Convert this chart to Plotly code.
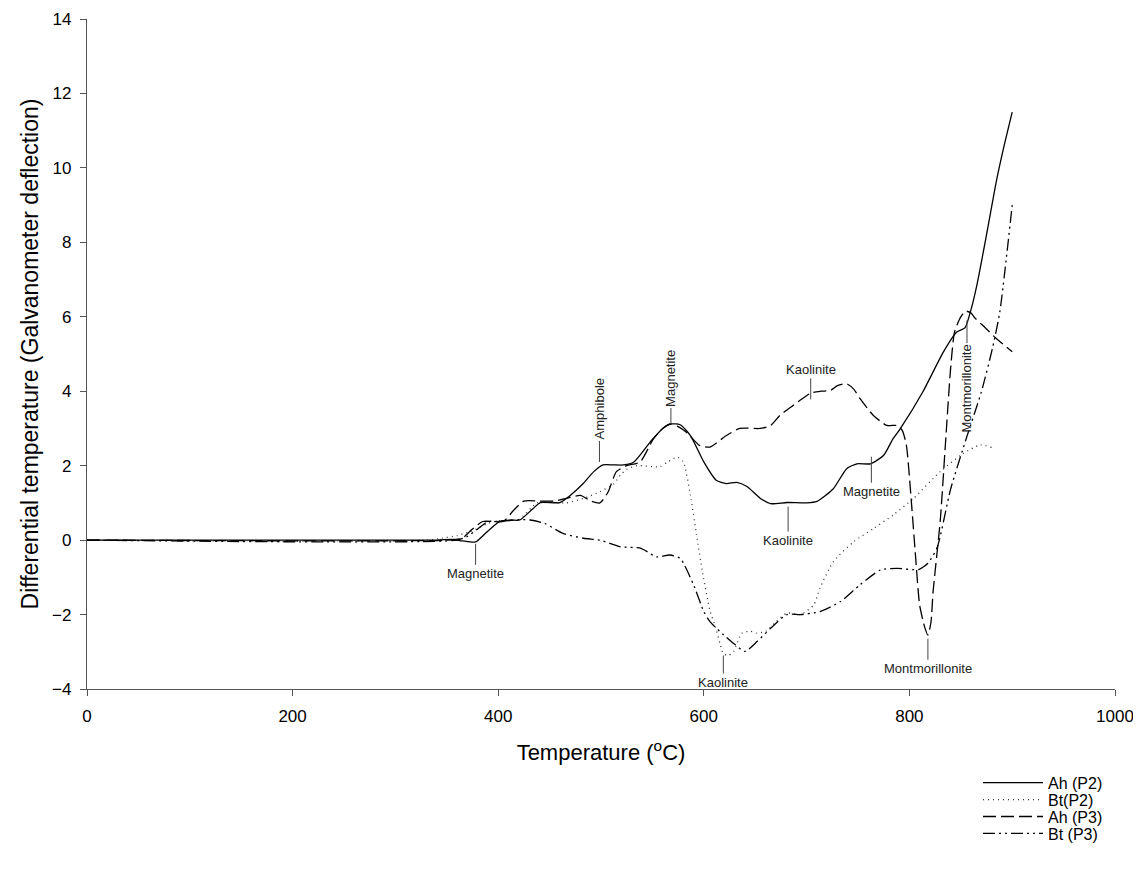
import plotly.graph_objects as go

# ---- data ----
ah_p2_t = [0, 340, 355, 365, 378, 389, 402, 412, 421, 434, 441, 460, 470, 482, 493, 502, 512, 522, 532, 548, 560, 568, 577, 587, 600, 612, 622, 632, 642, 655, 665, 681, 700, 710, 726, 739, 749, 762, 775, 784, 791, 813, 833, 846, 854, 860, 866, 875, 885, 893, 900]
ah_p2_v = [0, 0, 0.02, -0.02, -0.05, 0.22, 0.51, 0.54, 0.54, 0.85, 1.01, 1.01, 1.2, 1.5, 1.84, 2.02, 2.02, 2.02, 2.1, 2.64, 3.0, 3.12, 3.1, 2.81, 2.1, 1.61, 1.52, 1.55, 1.44, 1.12, 0.98, 1.01, 1.0, 1.04, 1.38, 1.92, 2.05, 2.05, 2.28, 2.72, 2.99, 3.98, 5.05, 5.59, 5.7, 6.2, 6.9, 8.2, 9.7, 10.7, 11.5]

bt_p2_t = [0, 330, 345, 360, 375, 390, 400, 420, 438, 466, 483, 499, 512, 519, 525, 535, 557, 565, 574, 580, 587, 593, 599, 606, 611, 616, 619, 624, 629, 637, 645, 652, 660, 670, 681, 694, 707, 713, 726, 746, 765, 784, 804, 830, 852, 869, 880]
bt_p2_v = [0, 0, 0.05, 0.12, 0.25, 0.45, 0.52, 0.55, 1.0, 1.0, 1.12, 1.3, 1.5, 1.75, 1.9, 2.0, 1.97, 2.1, 2.23, 2.1, 1.2, 0.13, -0.9, -1.9, -2.3, -2.8, -3.05, -3.1, -2.99, -2.5, -2.45, -2.5, -2.45, -2.2, -1.96, -2.0, -1.74, -1.29, -0.58, -0.04, 0.31, 0.67, 1.12, 1.84, 2.32, 2.56, 2.49]

ah_p3_t = [0, 350, 365, 375, 385, 395, 405, 415, 425, 440, 455, 470, 480, 490, 499, 507, 515, 525, 538, 551, 560, 568, 575, 583, 596, 606, 622, 635, 655, 665, 674, 687, 704, 714, 723, 730, 739, 746, 752, 765, 778, 788, 793, 797, 802, 806, 810, 815, 818, 821, 823, 830, 835, 840, 844, 850, 855, 860, 864, 874, 884, 900]
ah_p3_v = [0, 0, 0.05, 0.3, 0.5, 0.5, 0.5, 0.8, 1.05, 1.05, 1.05, 1.15, 1.2, 1.05, 1.0, 1.3, 1.84, 2.0, 2.1, 2.72, 3.0, 3.12, 3.05, 2.9, 2.54, 2.5, 2.81, 3.0, 3.0, 3.08, 3.35, 3.62, 3.95, 4.0, 4.02, 4.15, 4.2, 4.05, 3.8, 3.35, 3.08, 3.08, 2.95, 2.56, 1.0, -0.44, -1.75, -2.35, -2.55, -2.2, -1.4, 0.52, 2.56, 4.58, 5.6, 6.0, 6.15, 6.1, 5.96, 5.7, 5.43, 5.06]

bt_p3_t = [0, 360, 370, 380, 390, 400, 420, 431, 445, 463, 483, 499, 510, 519, 539, 554, 567, 577, 590, 600, 606, 619, 630, 640, 652, 665, 681, 694, 713, 733, 752, 772, 788, 809, 818, 827, 840, 856, 870, 881, 888, 900]
bt_p3_v = [0, 0, 0.1, 0.3, 0.5, 0.5, 0.55, 0.54, 0.45, 0.18, 0.05, 0.0, -0.1, -0.18, -0.22, -0.45, -0.4, -0.49, -1.2, -1.92, -2.19, -2.54, -2.8, -2.99, -2.72, -2.37, -2.0, -2.0, -1.92, -1.65, -1.2, -0.8, -0.76, -0.79, -0.62, -0.2, 1.36, 2.79, 3.98, 5.18, 6.14, 9.0]

series_names = ["Ah (P2)", "Bt(P2)", "Ah (P3)", "Bt (P3)"]

# annotation labels
label_text = ["Magnetite", "Amphibole", "Magnetite", "Kaolinite", "Kaolinite", "Magnetite", "Kaolinite", "Montmorillonite", "Montmorillonite"]
label_x = [378, 498.5, 568, 704, 682, 763, 619, 818, 856]
label_y = [-0.1, 2.1, 3.12, 3.78, 0.9, 2.24, -3.1, -2.65, 5.9]
label_ax = [0, 0, 0, 0, 0, 0, 0, 0, 0]
label_ay = [30, -53, -46, -30, 34, 35, 27, 30, 68]
label_angle = [0, -90, -90, 0, 0, 0, 0, 0, -90]

x_ticks = [0, 200, 400, 600, 800, 1000]
y_ticks = [-4, -2, 0, 2, 4, 6, 8, 10, 12, 14]

FONT = "Liberation Sans, Arial, sans-serif"

# page layout: browser body margin is 8px, so the figure is drawn 8px in
BODY = 8
W, H = 1141 - 2 * BODY, 870 - 2 * BODY
PLOT_L, PLOT_R, PLOT_T, PLOT_B = 87, 1115, 19, 691      # page pixels of the plot area
ML, MR = PLOT_L - BODY, (W + BODY) - PLOT_R
MT, MB = PLOT_T - BODY, (H + BODY) - PLOT_B
PW, PH = PLOT_R - PLOT_L, PLOT_B - PLOT_T

fig = go.Figure()
styles = [
    dict(color="black", width=1.3, dash="solid"),
    dict(color="#333333", width=1.3, dash="1px,4px"),
    dict(color="black", width=1.3, dash="13px,5px"),
    dict(color="black", width=1.3, dash="12px,4px,2px,4px,2px,4px"),
]
legend_ids = ["legend", "legend2", "legend3", "legend4"]
legend_rows = [785, 802, 819, 836]   # page y of each legend row
data = [(ah_p2_t, ah_p2_v), (bt_p2_t, bt_p2_v), (ah_p3_t, ah_p3_v), (bt_p3_t, bt_p3_v)]
for (t, v), name, st, lid in zip(data, series_names, styles, legend_ids):
    fig.add_trace(go.Scatter(x=t, y=v, mode="lines", name=name, legend=lid,
                             line=dict(shape="spline", smoothing=0.6, **st)))

for txt, x, y, ax, ay, ang in zip(label_text, label_x, label_y, label_ax, label_ay, label_angle):
    fig.add_annotation(x=x, y=y, ax=ax, ay=ay, text=txt, textangle=ang,
                       showarrow=True, arrowhead=0, arrowwidth=1, arrowcolor="#444",
                       font=dict(family=FONT, size=13, color="#222"), standoff=0)

legend_layout = {}
for lid, row in zip(legend_ids, legend_rows):
    legend_layout[lid] = dict(x=(978 - PLOT_L) / PW, y=(PLOT_B - row) / PH,
                              xanchor="left", yanchor="middle",
                              font=dict(family=FONT, size=16, color="black"),
                              itemwidth=60, bgcolor="rgba(0,0,0,0)")

fig.update_layout(
    width=W, height=H,
    margin=dict(l=ML, r=MR, t=MT, b=MB),
    paper_bgcolor="white", plot_bgcolor="white",
    font=dict(family=FONT, color="black"),
    showlegend=True,
    xaxis=dict(range=[0, 1000], tickvals=x_ticks, ticks="outside", ticklen=6,
               tickcolor="#555", showline=True, linecolor="#555", linewidth=1.2,
               showgrid=False, zeroline=False, tickfont=dict(size=17, family=FONT),
               ticklabelstandoff=5, ticklabeloverflow="allow", automargin=False,
               title=dict(text="Temperature (<sup>o</sup>C)", font=dict(size=22, family=FONT), standoff=20)),
    yaxis=dict(range=[-4, 14], tickvals=y_ticks, ticks="outside", ticklen=6,
               tickcolor="#555", showline=True, linecolor="#555", linewidth=1.2,
               showgrid=False, zeroline=False, tickfont=dict(size=17, family=FONT),
               ticklabelstandoff=5, ticklabeloverflow="allow", automargin=False,
               title=dict(text="Differential temperature (Galvanometer deflection)", font=dict(size=23, family=FONT), standoff=7)),
    **legend_layout,
)

fig.write_html("out.html")
